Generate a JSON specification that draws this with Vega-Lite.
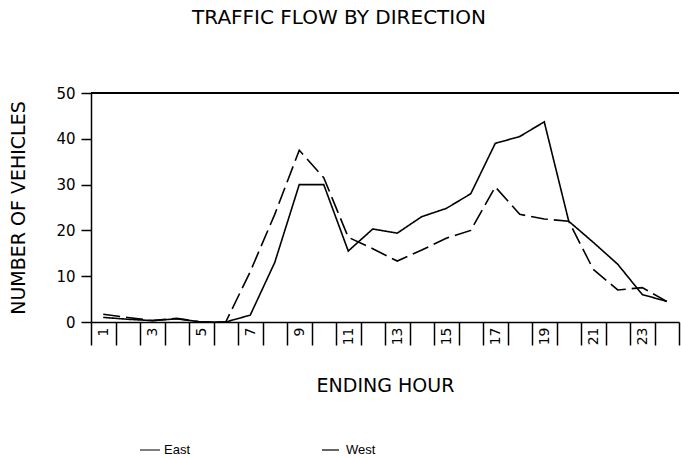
{
  "$schema": "https://vega.github.io/schema/vega-lite/v6.json",
  "autosize": "none",
  "width": 588,
  "height": 229,
  "padding": {"left": 91, "top": 93, "right": 2, "bottom": 138},
  "background": "white",
  "title": {
    "text": "TRAFFIC FLOW BY DIRECTION",
    "font": "DejaVu Sans",
    "fontSize": 20,
    "fontWeight": "normal",
    "color": "black",
    "anchor": "middle",
    "offset": 58,
    "dx": -46
  },
  "config": {
    "view": {"stroke": null},
    "axis": {
      "domainColor": "black",
      "tickColor": "black",
      "labelColor": "black",
      "titleColor": "black",
      "grid": false,
      "labelFont": "DejaVu Sans",
      "titleFont": "DejaVu Sans",
      "titleFontWeight": "normal"
    }
  },
  "data": {
    "values": [
      {"hour": 1, "dir": "East", "v": 1.0}, {"hour": 2, "dir": "East", "v": 0.6}, {"hour": 3, "dir": "East", "v": 0.3}, {"hour": 4, "dir": "East", "v": 0.7},
      {"hour": 5, "dir": "East", "v": 0}, {"hour": 6, "dir": "East", "v": 0}, {"hour": 7, "dir": "East", "v": 1.5}, {"hour": 8, "dir": "East", "v": 13},
      {"hour": 9, "dir": "East", "v": 30}, {"hour": 10, "dir": "East", "v": 30}, {"hour": 11, "dir": "East", "v": 15.5}, {"hour": 12, "dir": "East", "v": 20.3},
      {"hour": 13, "dir": "East", "v": 19.4}, {"hour": 14, "dir": "East", "v": 23}, {"hour": 15, "dir": "East", "v": 24.8}, {"hour": 16, "dir": "East", "v": 28},
      {"hour": 17, "dir": "East", "v": 39}, {"hour": 18, "dir": "East", "v": 40.5}, {"hour": 19, "dir": "East", "v": 43.7}, {"hour": 20, "dir": "East", "v": 22},
      {"hour": 21, "dir": "East", "v": 17.4}, {"hour": 22, "dir": "East", "v": 12.6}, {"hour": 23, "dir": "East", "v": 6}, {"hour": 24, "dir": "East", "v": 4.5},
      {"hour": 1, "dir": "West", "v": 1.7}, {"hour": 2, "dir": "West", "v": 1.0}, {"hour": 3, "dir": "West", "v": 0.3}, {"hour": 4, "dir": "West", "v": 0.8},
      {"hour": 5, "dir": "West", "v": 0}, {"hour": 6, "dir": "West", "v": 0}, {"hour": 7, "dir": "West", "v": 11}, {"hour": 8, "dir": "West", "v": 23.5},
      {"hour": 9, "dir": "West", "v": 37.5}, {"hour": 10, "dir": "West", "v": 31.5}, {"hour": 11, "dir": "West", "v": 18.5}, {"hour": 12, "dir": "West", "v": 16},
      {"hour": 13, "dir": "West", "v": 13.3}, {"hour": 14, "dir": "West", "v": 15.7}, {"hour": 15, "dir": "West", "v": 18.3}, {"hour": 16, "dir": "West", "v": 20},
      {"hour": 17, "dir": "West", "v": 29.5}, {"hour": 18, "dir": "West", "v": 23.5}, {"hour": 19, "dir": "West", "v": 22.5}, {"hour": 20, "dir": "West", "v": 22},
      {"hour": 21, "dir": "West", "v": 11.5}, {"hour": 22, "dir": "West", "v": 7}, {"hour": 23, "dir": "West", "v": 7.5}, {"hour": 24, "dir": "West", "v": 4.5}
    ]
  },
  "layer": [
    {
      "mark": {"type": "rule", "color": "black", "strokeWidth": 1.5},
      "encoding": {"y": {"datum": 50, "type": "quantitative", "scale": {"domain": [0, 50]}}}
    },
    {
      "mark": {"type": "line", "color": "black", "strokeWidth": 1.6},
      "encoding": {
        "x": {
          "field": "hour",
          "type": "ordinal",
          "scale": {"type": "band", "paddingInner": 0, "paddingOuter": 0},
          "axis": {
            "title": "ENDING HOUR",
            "titleFontSize": 19,
            "titlePadding": 31,
            "labelAngle": -90,
            "labelAlign": "right",
            "labelBaseline": "middle",
            "labelFontSize": 14,
            "labelPadding": -18,
            "tickBand": "extent",
            "tickSize": 23,
            "labelExpr": "datum.value % 2 == 1 ? datum.label : ''",
            "labelOverlap": false,
            "domainWidth": 1.5,
            "tickWidth": 1.5
          }
        },
        "y": {
          "field": "v",
          "type": "quantitative",
          "scale": {"domain": [0, 50]},
          "axis": {
            "title": "NUMBER OF VEHICLES",
            "titleFontSize": 19,
            "titlePadding": 27,
            "values": [0, 10, 20, 30, 40, 50],
            "labelFontSize": 15,
            "tickSize": 10,
            "labelPadding": 6,
            "domainWidth": 1.5,
            "tickWidth": 1.5
          }
        },
        "strokeDash": {
          "field": "dir",
          "type": "nominal",
          "scale": {"domain": ["East", "West"], "range": [[1, 0], [17, 6]]},
          "legend": {
            "title": null,
            "orient": "none",
            "direction": "horizontal",
            "legendX": 48,
            "legendY": 346,
            "symbolType": "stroke",
            "symbolSize": 400,
            "symbolStrokeWidth": 1.2,
            "symbolStrokeColor": "black",
            "labelFont": "Liberation Sans",
            "labelFontSize": 13,
            "labelColor": "black",
            "columnPadding": 128,
            "labelOffset": 3
          }
        }
      }
    }
  ]
}
